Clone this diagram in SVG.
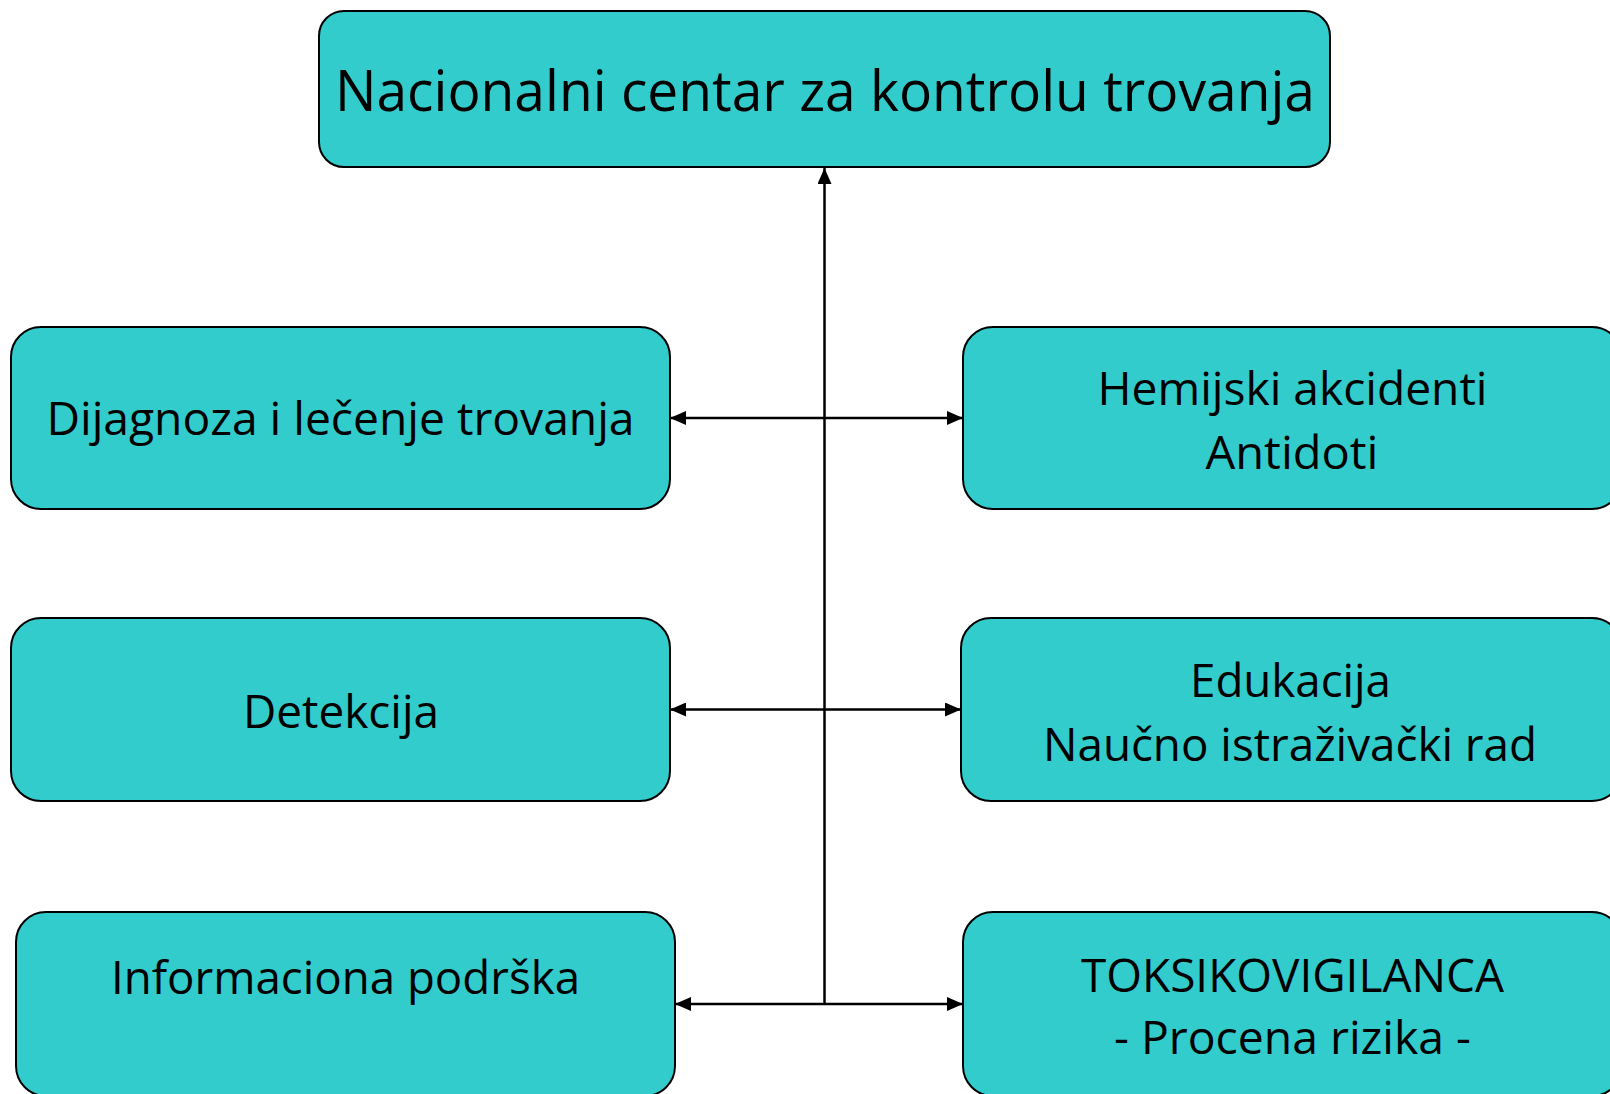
<svg xmlns="http://www.w3.org/2000/svg" width="1610" height="1094" viewBox="0 0 1610 1094">
<style>
.box{fill:#33CCCC;stroke:#000;stroke-width:2}
.t{font-family:"Open Sans","Liberation Sans",sans-serif;font-size:46px;fill:#000;text-anchor:middle}
.title{font-size:57px}
.c{stroke:#000;stroke-width:2.5;fill:none}
</style>
<defs>
<marker id="ah" viewBox="0 0 16 14" refX="16" refY="7" markerWidth="16" markerHeight="14" markerUnits="userSpaceOnUse" orient="auto-start-reverse">
<path d="M0,0 L16,7 L0,14 Z" fill="#000"/>
</marker>
</defs>
<rect width="1610" height="1094" fill="#fff"/>
<g id="connectors">
<line class="c" x1="824.5" y1="1004" x2="824.5" y2="168" marker-end="url(#ah)"/>
<line class="c" x1="670" y1="418" x2="963" y2="418" marker-start="url(#ah)" marker-end="url(#ah)"/>
<line class="c" x1="670" y1="709.5" x2="961" y2="709.5" marker-start="url(#ah)" marker-end="url(#ah)"/>
<line class="c" x1="675" y1="1004" x2="963" y2="1004" marker-start="url(#ah)" marker-end="url(#ah)"/>
</g>
<g id="node-top">
<rect class="box" x="319" y="11" width="1011" height="156" rx="25"/>
<text class="t title" x="825" y="111" textLength="980" lengthAdjust="spacingAndGlyphs">Nacionalni centar za kontrolu trovanja</text>
</g>
<g id="node-dijagnoza">
<rect class="box" x="11" y="327" width="659" height="182" rx="30"/>
<text class="t" x="340.5" y="435" textLength="588" lengthAdjust="spacingAndGlyphs">Dijagnoza i lečenje trovanja</text>
</g>
<g id="node-detekcija">
<rect class="box" x="11" y="618" width="659" height="183" rx="30"/>
<text class="t" x="341" y="728" textLength="196" lengthAdjust="spacingAndGlyphs">Detekcija</text>
</g>
<g id="node-informaciona">
<rect class="box" x="16" y="912" width="659" height="184" rx="30"/>
<text class="t" x="345.5" y="994" textLength="469" lengthAdjust="spacingAndGlyphs">Informaciona podrška</text>
</g>
<g id="node-hemijski">
<rect class="box" x="963" y="327" width="659" height="182" rx="30"/>
<text class="t" x="1292.5" y="405" textLength="390" lengthAdjust="spacingAndGlyphs">Hemijski akcidenti</text>
<text class="t" x="1292" y="469" textLength="173" lengthAdjust="spacingAndGlyphs">Antidoti</text>
</g>
<g id="node-edukacija">
<rect class="box" x="961" y="618" width="661" height="183" rx="30"/>
<text class="t" x="1290.5" y="697" textLength="201" lengthAdjust="spacingAndGlyphs">Edukacija</text>
<text class="t" x="1290" y="761" textLength="494" lengthAdjust="spacingAndGlyphs">Naučno istraživački rad</text>
</g>
<g id="node-toksikovigilanca">
<rect class="box" x="963" y="912" width="659" height="184" rx="30"/>
<text class="t" x="1292.5" y="992" textLength="423" lengthAdjust="spacingAndGlyphs">TOKSIKOVIGILANCA</text>
<text class="t" x="1292.5" y="1054" textLength="357" lengthAdjust="spacingAndGlyphs">- Procena rizika -</text>
</g>
</svg>
